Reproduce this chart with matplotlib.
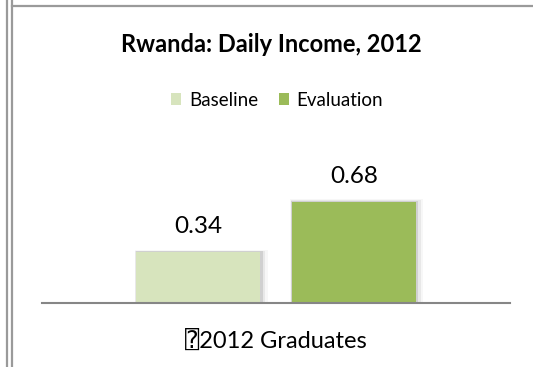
import matplotlib.pyplot as plt
from matplotlib.lines import Line2D
from matplotlib.patches import Rectangle

plt.rcParams['font.family'] = ['Lato', 'DejaVu Sans', 'DejaVu Sans Mono']

# data
series = ["Baseline", "Evaluation"]
values = [0.34, 0.68]
colors = ["#D7E4BD", "#9BBB59"]
category = "\u23702012 Graduates"

W, H = 533, 367
fig = plt.figure(figsize=(W / 100, H / 100), dpi=100)


def fx(px):
    return px / W


def fy(py):
    return 1 - py / H


# page frame lines around the embedded chart
frame = "#9a9a9a"
for x in (7, 12):
    fig.add_artist(Line2D([fx(x), fx(x)], [0, 1], color=frame, lw=1.6,
                          transform=fig.transFigure))
fig.add_artist(Line2D([fx(12), 1], [fy(6), fy(6)], color=frame, lw=1.6,
                      transform=fig.transFigure))
# tail of the heading above the chart
fig.text(fx(49), fy(-9), "g", fontsize=16, fontweight="bold",
         family="Liberation Serif", ha="center", va="baseline")

ax = fig.add_axes([fx(42), fy(303), fx(510) - fx(42), fy(120) - fy(303)])
ax.set_xlim(-0.5, 0.5)
ax.set_ylim(0, 183 / 149)

width = 0.265
offsets = [-0.166, 0.166]
for off, v, c, name in zip(offsets, values, colors, series):
    # soft shadow behind the bar
    for k, a in enumerate([0.10, 0.06, 0.03]):
        d = 0.003 * (k + 1)
        ax.add_patch(Rectangle((off - width / 2 - d * 0.4, 0), width + d * 2.2,
                               v + 0.006 * (k + 1), color="#000000", alpha=a,
                               lw=0, zorder=1))
    ax.bar(off, v, width, color=c, zorder=2, label=name)
    ax.text(off, v + 0.1, f"{v:.2f}", ha="center", va="bottom", fontsize=17.5,
            color="#000000")

for s in ("top", "right", "left"):
    ax.spines[s].set_visible(False)
ax.spines["bottom"].set_color("#868686")
ax.spines["bottom"].set_linewidth(1.5)
ax.set_yticks([])
ax.set_xticks([0])
ax.set_xticklabels([category], fontsize=17)
ax.tick_params(axis="x", length=0, pad=19)

fig.text(fx(271), fy(45), "Rwanda: Daily Income, 2012", ha="center",
         va="center", fontsize=17, fontweight="bold")
fig.legend(loc="center", bbox_to_anchor=(fx(277), fy(100)), ncol=2,
           frameon=False, fontsize=13.5, handlelength=0.55, handleheight=0.55,
           handletextpad=0.4, columnspacing=1.1)

fig.savefig("out.png", dpi=100)
